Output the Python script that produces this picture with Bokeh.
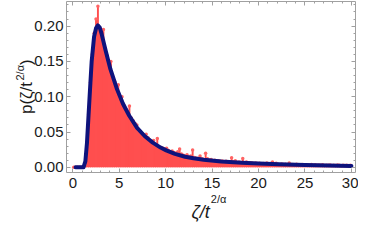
import numpy as np
from bokeh.plotting import figure
from bokeh.models import Range1d, LinearAxis, FixedTicker, NumeralTickFormatter, Label, ColumnDataSource
from bokeh.embed import file_html
from bokeh.resources import INLINE

# Sample histogram: bin centres start at 0.1, width 0.2
bin_start = 0.1
bin_width = 0.2
density = [
    0, 0, 0, 0, 0, 0, 0.004, 0.03, 0.075, 0.12,
    0.16, 0.19, 0.21, 0.228, 0.198, 0.192, 0.195, 0.168, 0.158, 0.148,
    0.15, 0.128, 0.122, 0.113, 0.117, 0.098, 0.1, 0.088, 0.083, 0.078,
    0.087, 0.07, 0.066, 0.062, 0.06, 0.052, 0.05, 0.048, 0.045, 0.047,
    0.042, 0.038, 0.036, 0.038, 0.032, 0.041, 0.029, 0.028, 0.027, 0.026,
    0.027, 0.024, 0.022, 0.023, 0.021, 0.02, 0.022, 0.026, 0.019, 0.017,
    0.016, 0.018, 0.015, 0.016, 0.0245, 0.014, 0.013, 0.013, 0.016, 0.012,
    0.011, 0.02, 0.012, 0.01, 0.011, 0.0095, 0.01, 0.009, 0.0095, 0.0085,
    0.009, 0.008, 0.0085, 0.008, 0.0075, 0.0137, 0.008, 0.0095, 0.007, 0.0075,
    0.007, 0.0124, 0.0065, 0.0075, 0.006, 0.0065, 0.006, 0.0055, 0.006, 0.0055,
    0.0058, 0.005, 0.0055, 0.005, 0.006, 0.0048, 0.0055, 0.0077, 0.0045, 0.0058,
    0.0045, 0.0042, 0.0048, 0.004, 0.0045, 0.0038, 0.0062, 0.0042, 0.004, 0.0035,
    0.0045, 0.0038, 0.0034, 0.004, 0.0036, 0.0032, 0.0038, 0.003, 0.0042, 0.003,
    0.0035, 0.0028, 0.0032, 0.003, 0.0036, 0.0027, 0.003, 0.0028, 0.0034, 0.0026,
    0.003, 0.0025, 0.0033, 0.0028, 0.0024, 0.003, 0.0026, 0.0028, 0.0024, 0.0029,
]
bin_x = [round(bin_start + i * bin_width, 2) for i in range(len(density))]

# Theoretical curve
curve_x = [0.3, 1.15, 1.35, 1.52, 1.69, 1.86, 2.03, 2.29, 2.5, 2.7, 2.9, 3.1, 3.54, 4.05,
           4.72, 5.4, 6.08, 6.92, 7.76, 8.61, 9.45, 10.06, 11, 12.09, 13, 14.1, 16,
           18.2, 20, 22.2, 25, 27.5, 30]
curve_y = [0, 0, 0.0085, 0.034, 0.073, 0.112, 0.15, 0.185, 0.197, 0.201, 0.198, 0.189,
           0.165, 0.139, 0.112, 0.09, 0.073, 0.056, 0.044, 0.035, 0.028, 0.024, 0.019,
           0.015, 0.0128, 0.0107, 0.0082, 0.0064, 0.0054, 0.0043, 0.0032, 0.0025, 0.002]

x_major = [0, 5, 10, 15, 20, 25, 30]
x_minor = list(range(0, 31))
y_major = [0.0, 0.05, 0.10, 0.15, 0.20]
y_minor = [round(i * 0.01, 2) for i in range(0, 24)]

RED = "#FF4F4F"
DOT = "#FF6464"
NAVY = "#0E137C"
GRAY = "#A0A0A0"
TXT = "#1a1a1a"
FONT = "Liberation Sans"

W, H = 358, 224
BL, BR, BT, BB = 66, 3, 1, 52
X0, X1 = -0.68, 30.44
Y0, Y1 = -0.0073, 0.2348
fw, fh = W - BL - BR, H - BT - BB
ppx = fw / (X1 - X0)   # pixels per x unit
ppy = fh / (Y1 - Y0)   # pixels per y unit

p = figure(width=W, height=H, x_range=Range1d(X0, X1), y_range=Range1d(Y0, Y1),
           output_backend="svg", toolbar_location=None,
           min_border_left=BL, min_border_right=BR, min_border_top=BT, min_border_bottom=BB)
p.background_fill_color = "white"
p.border_fill_color = "white"
p.outline_line_color = GRAY
p.outline_line_width = 1
p.grid.visible = False

src = ColumnDataSource(dict(x=bin_x, y=density, y0=[0] * len(density)))
p.varea_step(x="x", y1="y0", y2="y", step_mode="center", source=src, fill_color=RED)
p.segment(x0="x", y0="y0", x1="x", y1="y", source=src, line_color=RED, line_width=1)
p.scatter(x="x", y="y", source=src, size=3.5, fill_color=DOT, line_color=None, marker="circle")
p.line(curve_x, curve_y, line_color=NAVY, line_width=4, line_join="round", line_cap="round")

def style(ax, ticks, minor, labels=True):
    ax.ticker = FixedTicker(ticks=ticks, minor_ticks=minor)
    ax.axis_line_color = None
    ax.major_tick_in = 4
    ax.major_tick_out = 0
    ax.minor_tick_in = 2
    ax.minor_tick_out = 0
    ax.major_tick_line_color = GRAY
    ax.minor_tick_line_color = GRAY
    if labels:
        ax.major_label_text_font = FONT
        ax.major_label_text_font_size = "15px"
        ax.major_label_text_color = TXT
    else:
        ax.major_label_overrides = {t: "" for t in ticks}
        ax.major_label_text_font_size = "0px"
        ax.major_label_standoff = 0

style(p.xaxis[0], x_major, x_minor)
p.xaxis[0].major_label_standoff = 5
style(p.yaxis[0], y_major, y_minor)
p.yaxis[0].formatter = NumeralTickFormatter(format="0.00")
p.yaxis[0].major_label_standoff = 3

top = LinearAxis()
style(top, x_major, x_minor, labels=False)
p.add_layout(top, "above")
right = LinearAxis()
style(right, y_major, y_minor, labels=False)
p.add_layout(right, "right")

# ---- axis titles, drawn in side panels, positioned through the plot's scales ----
join_x = 14.75
p.add_layout(Label(x=join_x, y=Y0 - 39 / ppy, text="ζ/t", text_align="right",
                   text_baseline="alphabetic", text_font=FONT, text_font_size="18px",
                   text_font_style="italic", text_color=TXT), "below")
p.add_layout(Label(x=join_x, x_offset=1, y=Y0 - 26.5 / ppy, text="2/α", text_align="left",
                   text_baseline="alphabetic", text_font=FONT, text_font_size="11px",
                   text_color=TXT), "below")

ylab_start = Y0 + 58.5 / ppy
p.add_layout(Label(x=X0 - 40 / ppx, y=ylab_start, angle=np.pi / 2, text="p(ζ/t\u2003)",
                   text_align="left", text_baseline="alphabetic", text_font=FONT,
                   text_font_size="17px", text_color=TXT), "left")
p.add_layout(Label(x=X0 - 47 / ppx, y=ylab_start + 33.5 / ppy, angle=np.pi / 2, text="2/α",
                   text_align="left", text_baseline="alphabetic", text_font=FONT,
                   text_font_size="11px", text_color=TXT), "left")

open("out.html", "w").write(file_html(p, INLINE))
